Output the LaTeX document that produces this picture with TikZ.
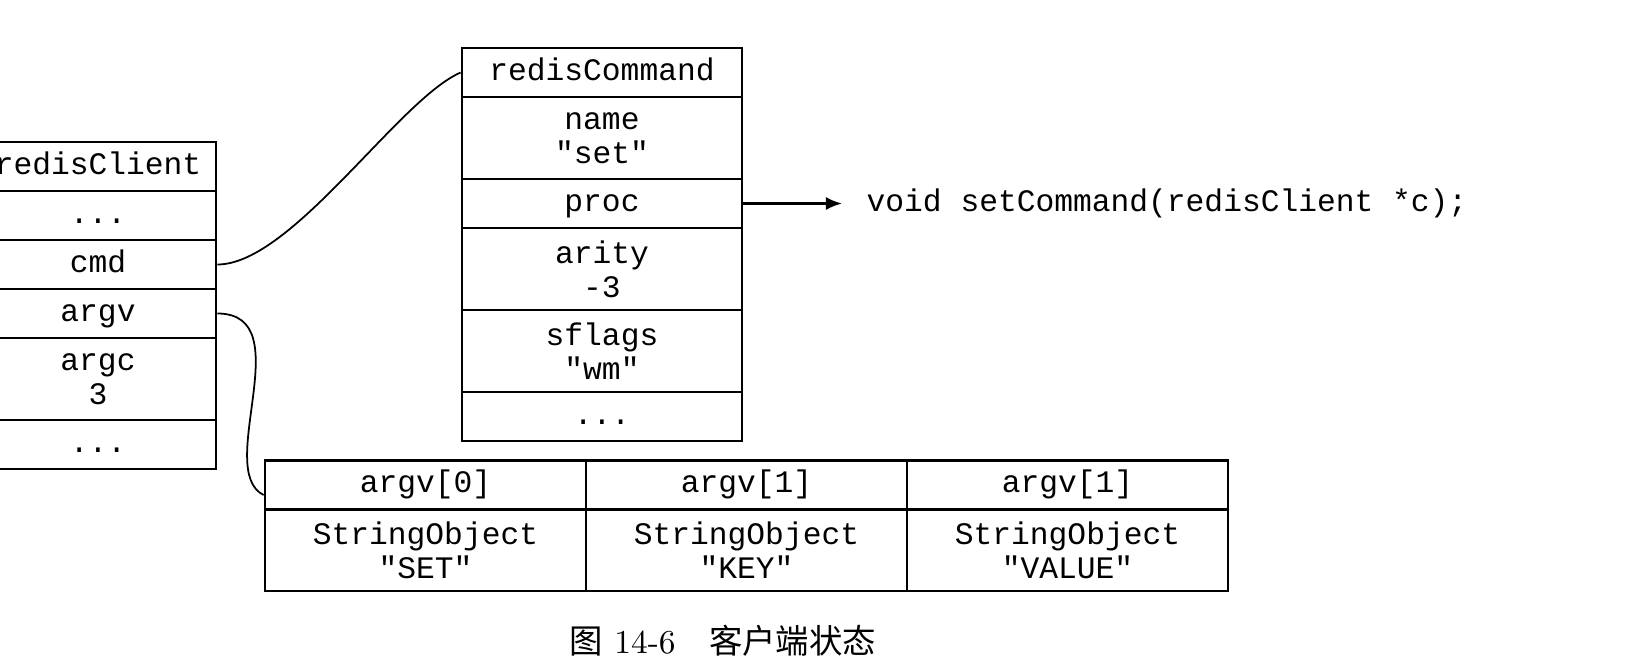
\documentclass[tikz,border=0pt]{standalone}
\usepackage{fontspec}
\setmonofont{Liberation Mono}
\newfontfamily\cjk{Noto Sans CJK SC}
\usetikzlibrary{arrows.meta}

\begin{document}
\begin{tikzpicture}[node distance=0.49cm, auto,
    cell/.style={draw, rectangle, line width=0.8pt, align=center, inner sep=0pt, minimum height=0.49cm, text height=6.4pt, text depth=1.9pt, font=\fontsize{8.9}{9.6}\selectfont\ttfamily},
    tall/.style={minimum height=0.82cm, text height=, text depth=},
    clientrow/.style={cell, minimum width=2.36cm},
    cmdrow/.style={cell, minimum width=2.80cm},
    argrow/.style={cell, minimum width=3.21cm},
    link/.style={line width=0.5pt}]
    \clip (0,0) rectangle (16.44,-6.60);

    % redisClient
    \node (client) [clientrow] at (0.98,-1.665) {redisClient};
    \node (cdots1) [clientrow, below of=client] {...};
    \node (cmd) [clientrow, below of=cdots1] {cmd};
    \node (argv) [clientrow, below of=cmd] {argv};
    \node (argc) [clientrow, tall, below of=argv, node distance=0.655cm] {argc\\3};
    \node (cdots2) [clientrow, below of=argc, node distance=0.655cm] {...};

    % redisCommand
    \node (command) [cmdrow] at (6.02,-0.725) {redisCommand};
    \node (name) [cmdrow, tall, below of=command, node distance=0.655cm] {name\\"set"};
    \node (proc) [cmdrow, below of=name, node distance=0.655cm] {proc};
    \node (arity) [cmdrow, tall, below of=proc, node distance=0.655cm] {arity\\-3};
    \node (sflags) [cmdrow, tall, below of=arity, node distance=0.82cm] {sflags\\"wm"};
    \node (xdots) [cmdrow, below of=sflags, node distance=0.655cm] {...};

    \node (fn) [right of=proc, node distance=5.65cm, inner xsep=0.24cm, font=\fontsize{8.9}{9.6}\selectfont\ttfamily] {void setCommand(redisClient *c);};

    % argv array
    \node (a0) [argrow] at (4.255,-4.85) {argv[0]};
    \node (a1) [argrow, right of=a0, node distance=3.21cm] {argv[1]};
    \node (a2) [argrow, right of=a1, node distance=3.21cm] {argv[1]};
    \node (s0) [argrow, tall, below of=a0, node distance=0.65cm] {StringObject\\"SET"};
    \node (s1) [argrow, tall, below of=a1, node distance=0.65cm] {StringObject\\"KEY"};
    \node (s2) [argrow, tall, below of=a2, node distance=0.65cm] {StringObject\\"VALUE"};

    \node (caption) [font=\fontsize{9.5}{11}\selectfont] at (7.23,-6.41) {{\cjk 图} 14-6\quad{\cjk 客户端状态}};

    \draw[link] (cmd.east) .. controls +(0.74,0) and +(-0.62,-0.27) .. (command.west);
    \draw[link] (argv.east) .. controls +(0.84,0) and +(-0.5,0.25) .. ([yshift=-0.1cm]a0.west);
    \draw[line width=0.6pt, -{Latex[length=1.6mm,width=1.3mm]}] (proc) -- (fn);
\end{tikzpicture}
\end{document}
